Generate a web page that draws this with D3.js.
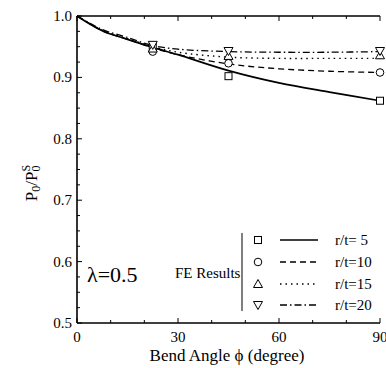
<!DOCTYPE html>
<html>
<head>
<meta charset="utf-8">
<script src="https://cdn.jsdelivr.net/npm/d3@7"></script>
<style>
  body { margin: 0; background: #fff; }
  text { font-family: "Liberation Serif", "DejaVu Serif", serif; fill: #000; }
</style>
</head>
<body>
<script>
// curve data (bend angle in degrees)
var angles = [0, 7.5, 15, 22.5, 30, 45, 60, 75, 90];
var curve5  = [1.0, 0.976, 0.962, 0.949, 0.937, 0.911, 0.891, 0.876, 0.862];
var curve10 = [1.0, 0.976, 0.962, 0.948, 0.937, 0.922, 0.914, 0.910, 0.908];
var curve15 = [1.0, 0.977, 0.963, 0.950, 0.941, 0.933, 0.931, 0.931, 0.931];
var curve20 = [1.0, 0.978, 0.965, 0.952, 0.946, 0.942, 0.941, 0.941, 0.942];

// FE results
var feAngles = [22.5, 45, 90];
var fe5  = [0.950, 0.902, 0.862];
var fe10 = [0.942, 0.923, 0.908];
var fe15 = [0.947, 0.935, 0.936];
var fe20 = [0.953, 0.943, 0.943];

var legendLabels = ["r/t=\u00a05", "r/t=10", "r/t=15", "r/t=20"];
var xTicks = [0, 30, 60, 90];
var yTicks = [0.5, 0.6, 0.7, 0.8, 0.9, 1.0];

var width = 386, height = 368;
var margin = {top: 16, right: 6, bottom: 45, left: 77};

var svg = d3.select("body").append("svg")
    .attr("width", width)
    .attr("height", height);

var x = d3.scaleLinear().domain([0, 90]).range([margin.left, 380]);
var y = d3.scaleLinear().domain([0.5, 1.0]).range([323, margin.top]);

// frame: left, bottom, top
svg.append("line").attr("x1", x(0)).attr("x2", x(0)).attr("y1", y(1)).attr("y2", y(0.5))
    .attr("stroke", "#000").attr("stroke-width", 1.6);
svg.append("line").attr("x1", x(0)).attr("x2", x(90)).attr("y1", y(0.5)).attr("y2", y(0.5))
    .attr("stroke", "#000").attr("stroke-width", 1.6);
svg.append("line").attr("x1", x(0)).attr("x2", x(90)).attr("y1", y(1)).attr("y2", y(1))
    .attr("stroke", "#000").attr("stroke-width", 1.6);

// ticks pointing inward
d3.range(0, 91, 10).forEach(function(v) {
    var len = v % 30 == 0 ? 5 : 3;
    svg.append("line").attr("x1", x(v)).attr("x2", x(v)).attr("y1", y(0.5)).attr("y2", y(0.5) - len)
        .attr("stroke", "#000");
    svg.append("line").attr("x1", x(v)).attr("x2", x(v)).attr("y1", y(1)).attr("y2", y(1) + len)
        .attr("stroke", "#000");
});
d3.range(0, 21).forEach(function(i) {
    var v = 0.5 + i * 0.025;
    var len = i % 4 == 0 ? 5 : 3;
    svg.append("line").attr("x1", x(0)).attr("x2", x(0) + len).attr("y1", y(v)).attr("y2", y(v))
        .attr("stroke", "#000");
});

// tick labels
svg.selectAll(".xt").data(xTicks).enter().append("text")
    .attr("x", function(d) { return x(d); })
    .attr("y", 342)
    .attr("text-anchor", "middle")
    .style("font-size", "15px")
    .text(function(d) { return d; });
svg.selectAll(".yt").data(yTicks).enter().append("text")
    .attr("x", 72)
    .attr("y", function(d) { return y(d) + 5; })
    .attr("text-anchor", "end")
    .style("font-size", "15px")
    .text(function(d) { return d.toFixed(1); });

// axis titles
svg.append("text")
    .attr("x", 227).attr("y", 361)
    .attr("text-anchor", "middle")
    .style("font-size", "17px")
    .text("Bend Angle \u03d5 (degree)");

var yl = svg.append("text")
    .attr("transform", "translate(37,183) rotate(-90)")
    .attr("text-anchor", "middle")
    .style("font-size", "17px");
yl.append("tspan").text("P");
yl.append("tspan").attr("baseline-shift", "-25%").style("font-size", "12px").text("0");
yl.append("tspan").text("/P");
yl.append("tspan").attr("baseline-shift", "-25%").style("font-size", "12px").text("0");
yl.append("tspan").attr("baseline-shift", "60%").attr("dx", -6).style("font-size", "12px").text("S");

// curves
var series = [
    {vals: curve5,  fe: fe5,  dash: null,        w: 1.7, marker: "square"},
    {vals: curve10, fe: fe10, dash: "6,4",       w: 1.3, marker: "circle"},
    {vals: curve15, fe: fe15, dash: "1.5,4",     w: 1.4, marker: "up"},
    {vals: curve20, fe: fe20, dash: "7,3,1.5,3", w: 1.3, marker: "down"}
];

var line = d3.line()
    .x(function(d) { return x(d[0]); })
    .y(function(d) { return y(d[1]); })
    .curve(d3.curveCatmullRom);

series.forEach(function(s) {
    svg.append("path")
        .datum(angles.map(function(a, i) { return [a, s.vals[i]]; }))
        .attr("d", line)
        .attr("fill", "none")
        .attr("stroke", "#000")
        .attr("stroke-width", s.w)
        .attr("stroke-dasharray", s.dash);
});

function drawMarker(g, type, cx, cy) {
    if (type == "square") {
        g.append("rect").attr("x", cx - 3.5).attr("y", cy - 3.5).attr("width", 7).attr("height", 7)
            .attr("fill", "#fff").attr("stroke", "#000");
    } else if (type == "circle") {
        g.append("circle").attr("cx", cx).attr("cy", cy).attr("r", 3.8)
            .attr("fill", "#fff").attr("stroke", "#000");
    } else if (type == "up") {
        g.append("path").attr("d", "M" + cx + "," + (cy - 4.5) + "L" + (cx + 4.5) + "," + (cy + 3.5) + "L" + (cx - 4.5) + "," + (cy + 3.5) + "Z")
            .attr("fill", "#fff").attr("stroke", "#000");
    } else {
        g.append("path").attr("d", "M" + cx + "," + (cy + 4.5) + "L" + (cx + 4.5) + "," + (cy - 3.5) + "L" + (cx - 4.5) + "," + (cy - 3.5) + "Z")
            .attr("fill", "#fff").attr("stroke", "#000");
    }
}

series.forEach(function(s) {
    feAngles.forEach(function(a, i) {
        drawMarker(svg, s.marker, x(a), y(s.fe[i]));
    });
});

// annotation and legend
svg.append("text").attr("x", 87).attr("y", 282)
    .style("font-size", "22px").text("\u03bb=0.5");
svg.append("text").attr("x", 175).attr("y", 278)
    .style("font-size", "15px").text("FE Results");
svg.append("line").attr("x1", 242).attr("x2", 242).attr("y1", 233).attr("y2", 311)
    .attr("stroke", "#000");

var rowY = [240, 262, 284, 305];
series.forEach(function(s, i) {
    drawMarker(svg, s.marker, 258, rowY[i]);
    svg.append("line").attr("x1", 280).attr("x2", 318).attr("y1", rowY[i]).attr("y2", rowY[i])
        .attr("stroke", "#000").attr("stroke-width", s.w).attr("stroke-dasharray", s.dash);
    svg.append("text").attr("x", 335).attr("y", rowY[i] + 5)
        .style("font-size", "15px").text(legendLabels[i]);
});
</script>
</body>
</html>
